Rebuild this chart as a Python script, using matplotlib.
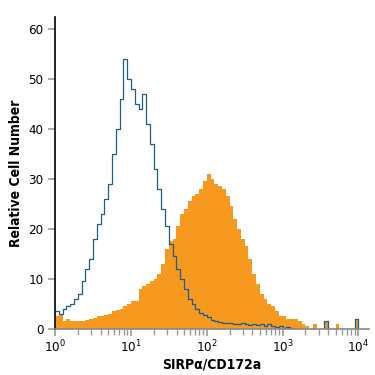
import numpy as np
import matplotlib
matplotlib.use("Agg")
import matplotlib.pyplot as plt

plt.rcParams['font.family'] = ['DejaVu Sans']
plt.rcParams['font.stretch'] = 'condensed'
plt.rcParams['mathtext.fontset'] = 'custom'
plt.rcParams['mathtext.rm'] = 'DejaVu Sans:stretch=condensed'

# log10 channel positions (bin left edges)
log_x = np.round(np.arange(0, 4.05, 0.05), 2)

# isotype control (blue outline)
blue_counts = [3.5, 3, 4, 4.5, 5, 6, 7, 9.5, 12, 14,
               18, 21, 23, 26, 29, 35, 40, 46, 54, 50,
               48, 45, 44, 47, 41, 37, 32, 28, 24, 20.5,
               17, 14.5, 12, 10, 8, 6, 5, 4, 3.2, 2.8,
               2.3, 1.8, 1.5, 1.3, 1.2, 1.2, 1.1, 1, 1, 1.2,
               1, 0.8, 1, 0.8, 1, 0.6, 1, 0.5, 0.3, 0.5,
               0.2, 0.3, 0, 0, 0, 0, 0, 0, 0, 0,
               0, 1.5, 0, 0, 0, 0, 0, 0, 0, 2, 0]

# SIRPa stained (orange filled)
orange_counts = [2.5, 3, 1.5, 2, 1.5, 1.5, 1.5, 1.5, 1.8, 2,
                 2.2, 2.5, 2.5, 2.8, 3, 3.5, 3.8, 4, 4.5, 5,
                 5.5, 5.5, 8, 8.5, 9, 9.5, 10, 11, 13, 16,
                 17.5, 18, 20.5, 23, 24, 25.5, 26.5, 27, 28, 29.5,
                 31, 30, 29, 28.5, 28, 26.5, 24.5, 22, 20, 18,
                 16.5, 14, 11, 9, 7, 6, 5, 4.5, 3.5, 2.5,
                 2.5, 2, 2, 2, 1.5, 1, 0.5, 0, 1, 0,
                 0, 1.5, 0, 0, 1, 0, 0, 0, 0, 2, 0]

x = 10 ** log_x

fig = plt.figure(figsize=(3.75, 3.75), dpi=100)
ax = fig.add_axes([0.147, 0.123, 0.837, 0.832])

ax.fill_between(x, orange_counts, step='post', color='#F7981F', lw=0)
ax.step(x, blue_counts, where='post', color='#1B5F8C', lw=0.9)
ax.plot([1.005, 1.005], [0, 31], color='#BFE0F0', lw=1.2)

ax.set_xscale('log')
ax.set_xlim(1, 10 ** 4.14)
ax.set_ylim(0, 62.4)
ax.set_yticks([0, 10, 20, 30, 40, 50, 60])
ax.set_xticks([1, 10, 100, 1000, 10000])
ax.set_xticklabels(['$10^0$', '$10^1$', '$10^2$', '$10^3$', '$10^4$'])

ax.spines['top'].set_visible(False)
ax.spines['right'].set_visible(False)
ax.spines['left'].set_color('black')
ax.spines['left'].set_linewidth(1.2)
ax.spines['bottom'].set_color('#888888')
ax.spines['bottom'].set_linewidth(1.2)

ax.tick_params(axis='both', which='major', color='#999999', width=1.2, length=5, labelsize=9.5)
ax.tick_params(axis='x', which='minor', color='#999999', width=1, length=4)
ax.tick_params(axis='x', pad=2)

ax.set_xlabel('SIRP\u03b1/CD172a', fontsize=10, labelpad=2, fontweight='semibold')
ax.set_ylabel('Relative Cell Number', fontsize=10, labelpad=4, fontweight='semibold')

fig.savefig('out.png', dpi=100)
